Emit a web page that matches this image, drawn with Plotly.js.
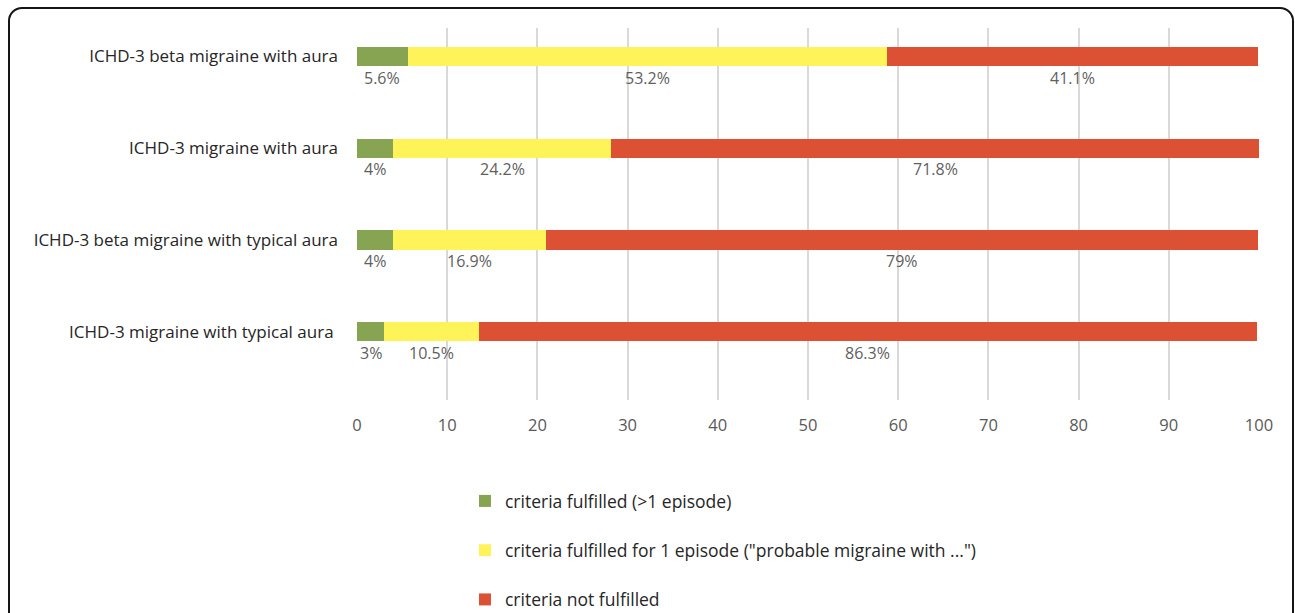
<!DOCTYPE html>
<html>
<head>
<meta charset="utf-8">
<script src="https://cdn.plot.ly/plotly-3.0.1.min.js"></script>
<style>
  html, body { margin: 0; padding: 0; background: #fff; overflow: hidden; }
  #wrap { position: relative; width: 1295px; height: 613px; }
  #chart { width: 1295px; height: 613px; }
  #frame { position: absolute; left: 8px; top: 7px; width: 1282px; height: 660px;
           border: 2px solid #151515; border-radius: 14px; pointer-events: none; }
</style>
</head>
<body>
<div id="wrap">
  <div id="chart"></div>
  <div id="frame"></div>
</div>
<script>
// ---- data ----
const categories = [
  "ICHD-3 beta migraine with aura",
  "ICHD-3 migraine with aura",
  "ICHD-3 beta migraine with typical aura",
  "ICHD-3 migraine with typical aura "
];
const seriesNames = [
  "criteria fulfilled (>1 episode)",
  "criteria fulfilled for 1 episode (\"probable migraine with ...\")",
  "criteria not fulfilled"
];
const fulfilledMulti = [5.6, 4, 4, 3];
const fulfilledOne = [53.2, 24.2, 16.9, 10.5];
const notFulfilled = [41.1, 71.8, 79, 86.3];
const labelsMulti = ["5.6%", "4%", "4%", "3%"];
const labelsOne = ["53.2%", "24.2%", "16.9%", "10.5%"];
const labelsNot = ["41.1%", "71.8%", "79%", "86.3%"];
const xTicks = [0, 10, 20, 30, 40, 50, 60, 70, 80, 90, 100];

const colors = ["#86A452", "#FFF35A", "#DC5133"];
const seriesValues = [fulfilledMulti, fulfilledOne, notFulfilled];
const seriesLabels = [labelsMulti, labelsOne, labelsNot];
const pos = categories.map((c, i) => i);

const traces = seriesValues.map((vals, s) => ({
  type: "bar",
  orientation: "h",
  name: seriesNames[s],
  x: vals,
  y: pos,
  width: 0.21,
  marker: { color: colors[s] },
  legendgroup: "g" + s,
  hoverinfo: "x+name"
}));

// data labels below each segment, centred on segment
const annotations = [];
const cum = pos.map(() => 0);
seriesValues.forEach((vals, s) => {
  vals.forEach((v, i) => {
    annotations.push({
      x: cum[i] + v / 2,
      y: pos[i],
      xref: "x", yref: "y",
      text: seriesLabels[s][i],
      showarrow: false,
      yshift: -21,
      font: { family: "Open Sans, sans-serif", size: 16, color: "#5f5f5f" }
    });
    cum[i] += v;
  });
});

const layout = {
  width: 1295, height: 613,
  margin: { l: 357, r: 36, t: 28, b: 213 },
  paper_bgcolor: "#fff",
  plot_bgcolor: "#fff",
  barmode: "stack",
  showlegend: true,
  font: { family: "Open Sans, sans-serif", size: 17, color: "#262626" },
  xaxis: {
    range: [0, 100],
    tickvals: xTicks,
    showgrid: true,
    gridcolor: "#d9d9d9",
    gridwidth: 2,
    zeroline: false,
    showline: false,
    ticks: "",
    tickfont: { size: 16.5, color: "#595959" },
    ticklabelstandoff: 13,
    automargin: false,
    fixedrange: true
  },
  yaxis: {
    range: [3.746, -0.311],
    tickvals: pos,
    ticktext: categories,
    showgrid: false,
    zeroline: false,
    showline: false,
    ticks: "",
    ticklabelstandoff: 18,
    tickfont: { size: 17, color: "#262626" },
    automargin: false,
    fixedrange: true
  },
  legend: {
    orientation: "v",
    xref: "paper",
    x: 0.1197, xanchor: "left",
    yref: "container",
    y: 0.212, yanchor: "top",
    tracegroupgap: 23.5,
    font: { size: 17.5, color: "#262626" },
    bgcolor: "rgba(0,0,0,0)"
  },
  annotations: annotations
};

Plotly.newPlot("chart", traces, layout, { displayModeBar: false, staticPlot: true });
</script>
</body>
</html>
